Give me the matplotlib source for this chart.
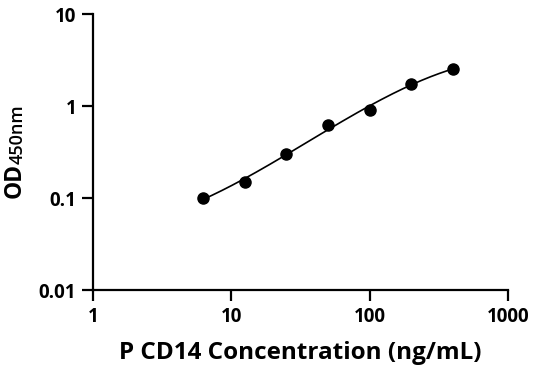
import numpy as np
import matplotlib.pyplot as plt

conc = [6.25, 12.5, 25, 50, 100, 200, 400]
od = [0.100, 0.150, 0.305, 0.62, 0.90, 1.75, 2.55]
x_ticks = [1, 10, 100, 1000]
x_tick_labels = ["1", "10", "100", "1000"]
y_ticks = [0.01, 0.1, 1, 10]
y_tick_labels = ["0.01", "0.1", "1", "10"]

plt.rcParams['font.family'] = ['Open Sans', 'DejaVu Sans']

fig = plt.figure(figsize=(5.36, 3.71), dpi=100)
ax = fig.add_axes([0.1735, 0.218, 0.7745, 0.744])

# smooth fitted curve in log-log space
lx = np.log10(conc)
ly = np.log10(od)
coef = np.polyfit(lx, ly, 3)
xs = np.linspace(lx[0], lx[-1], 200)
ax.plot(10 ** xs, 10 ** np.polyval(coef, xs), color='black', lw=1.2)
ax.plot(conc, od, 'o', color='black', markersize=8)

ax.set_xscale('log')
ax.set_yscale('log')
ax.set_xlim(1, 1000)
ax.set_ylim(0.01, 10)
ax.set_xticks(x_ticks)
ax.set_xticklabels(x_tick_labels)
ax.set_yticks(y_ticks)
ax.set_yticklabels(y_tick_labels)
ax.minorticks_off()

for s in ['top', 'right']:
    ax.spines[s].set_visible(False)
for s in ['left', 'bottom']:
    ax.spines[s].set_linewidth(1.6)

ax.tick_params(width=1.6, length=8, labelsize=13.5, pad=4)
for lab in ax.get_xticklabels() + ax.get_yticklabels():
    lab.set_fontweight('bold')

ax.set_xlabel("P CD14 Concentration (ng/mL)", fontsize=17.5, fontweight='bold', labelpad=10)

fig.text(0.049, 0.466, "OD", rotation=90, fontsize=16.5, fontweight='bold',
         ha='right', va='bottom')
fig.text(0.049, 0.558, "450nm", rotation=90, fontsize=13, fontweight='semibold',
         ha='right', va='bottom')

fig.savefig("out.png", dpi=100)
